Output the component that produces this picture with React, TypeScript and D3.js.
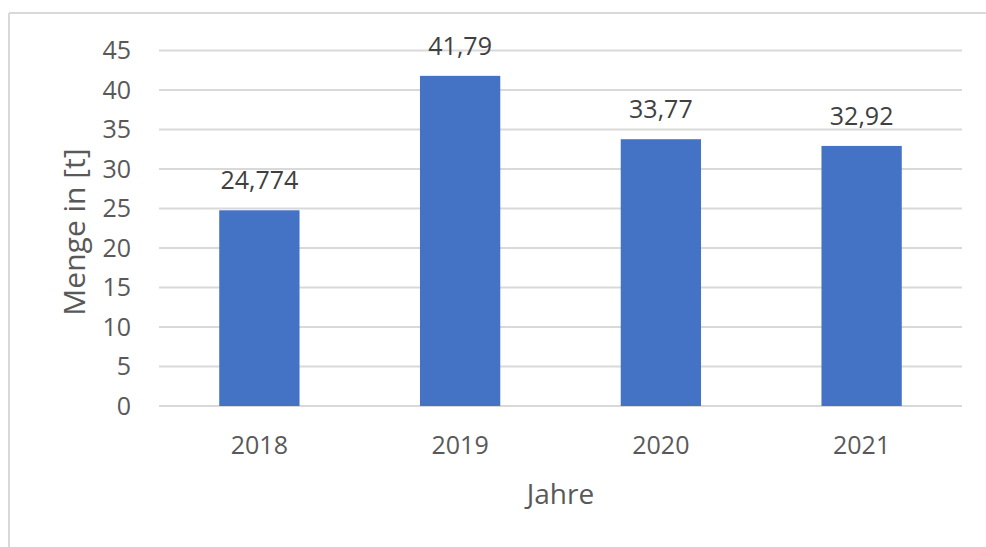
import { useEffect, useRef } from 'react';
import * as d3 from 'd3';

const years = ['2018', '2019', '2020', '2021'];
const amounts = [24.774, 41.79, 33.77, 32.92];
const yTicks = [0, 5, 10, 15, 20, 25, 30, 35, 40, 45];

const width = 986;
const height = 547;
const plot = { left: 159, right: 962, top: 50.5, bottom: 406 };
const font = "'Open Sans', 'Noto Sans', sans-serif";
const textColor = '#595959';

export default function App() {
  const ref = useRef<SVGSVGElement>(null);

  useEffect(() => {
    const svg = d3.select(ref.current);
    svg.selectAll('*').remove();

    const data = years.map((y, i) => ({ year: y, value: amounts[i] }));

    const xScale = d3.scaleBand().domain(years).range([plot.left, plot.right]).paddingInner(0.6).paddingOuter(0.3);
    const yScale = d3.scaleLinear().domain([0, 45]).range([plot.bottom, plot.top]);

    // chart frame (cropped, only top and left edges visible)
    svg.append('line')
      .attr('x1', 9).attr('x2', width).attr('y1', 13).attr('y2', 13)
      .attr('stroke', '#d9d9d9').attr('stroke-width', 2);
    svg.append('line')
      .attr('x1', 9).attr('x2', 9).attr('y1', 13).attr('y2', height)
      .attr('stroke', '#d9d9d9').attr('stroke-width', 2);

    // gridlines
    svg.append('g')
      .selectAll('line')
      .data(yTicks)
      .join('line')
      .attr('x1', plot.left)
      .attr('x2', plot.right)
      .attr('y1', d => yScale(d))
      .attr('y2', d => yScale(d))
      .attr('stroke', '#d9d9d9')
      .attr('stroke-width', 2);

    // y tick labels
    svg.append('g')
      .selectAll('text')
      .data(yTicks)
      .join('text')
      .attr('x', 131)
      .attr('y', d => yScale(d))
      .attr('dy', '0.35em')
      .attr('text-anchor', 'end')
      .attr('font-family', font)
      .attr('font-size', 25)
      .attr('fill', textColor)
      .text(d => d);

    // bars
    svg.append('g')
      .selectAll('rect')
      .data(data)
      .join('rect')
      .attr('x', d => xScale(d.year)!)
      .attr('width', xScale.bandwidth())
      .attr('y', d => yScale(d.value))
      .attr('height', d => plot.bottom - yScale(d.value))
      .attr('fill', '#4472c4');

    // value labels
    svg.append('g')
      .selectAll('text')
      .data(data)
      .join('text')
      .attr('x', d => xScale(d.year)! + xScale.bandwidth() / 2)
      .attr('y', d => yScale(d.value) - 21)
      .attr('text-anchor', 'middle')
      .attr('font-family', font)
      .attr('font-size', 25)
      .attr('fill', '#404040')
      .text(d => String(d.value).replace('.', ','));

    // x tick labels
    svg.append('g')
      .selectAll('text')
      .data(years)
      .join('text')
      .attr('x', d => xScale(d)! + xScale.bandwidth() / 2)
      .attr('y', 454)
      .attr('text-anchor', 'middle')
      .attr('font-family', font)
      .attr('font-size', 25)
      .attr('fill', textColor)
      .text(d => d);

    // axis titles
    svg.append('text')
      .attr('x', (plot.left + plot.right) / 2)
      .attr('y', 504)
      .attr('text-anchor', 'middle')
      .attr('font-family', font)
      .attr('font-size', 28)
      .attr('fill', textColor)
      .text('Jahre');

    svg.append('text')
      .attr('transform', `translate(85, 232) rotate(-90)`)
      .attr('text-anchor', 'middle')
      .attr('font-family', font)
      .attr('font-size', 30)
      .attr('fill', textColor)
      .text('Menge in [t]');
  }, []);

  return (
    <svg
      ref={ref}
      width={width}
      height={height}
      style={{ position: 'absolute', left: 0, top: 0, background: '#fff' }}
    />
  );
}
